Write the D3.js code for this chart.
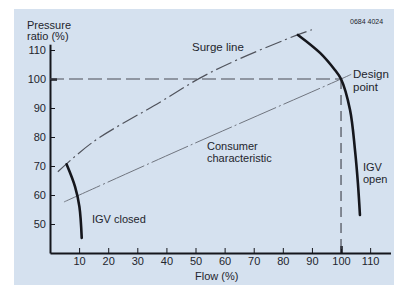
<!DOCTYPE html>
<html>
<head>
<meta charset="utf-8">
<script src="https://cdn.jsdelivr.net/npm/d3@7"></script>
<style>
  body { margin: 0; background: #fff; }
  svg { display: block; font-family: "Liberation Sans", Arial, sans-serif; }
  .lbl { fill: #23252d; font-size: 11px; }
  .axis text { fill: #23252d; font-size: 11px; font-family: "Liberation Sans", Arial, sans-serif; }
  .axis path, .axis line { stroke: #15161c; }
</style>
</head>
<body>
<div id="chart"></div>
<script>
// axis ticks
var xTicks = [10, 20, 30, 40, 50, 60, 70, 80, 90, 100, 110];
var yTicks = [50, 60, 70, 80, 90, 100, 110];

// curves: [flow %, pressure ratio %]
var surgeLine = [[2.7, 68], [14.8, 78.3], [37.8, 92], [51.5, 100.3], [64.3, 106.6], [85, 115.2], [90, 117]];
var consumerLine = [[4.8, 57.6], [44, 75.3], [100, 100], [103.5, 101.6]];
var igvClosed = [[5.7, 70.6], [8.6, 62.9], [10.1, 56], [10.9, 45.2]];
var igvOpen = [[85.2, 115.2], [92.8, 109], [97.9, 103.1], [100, 100], [103.1, 89.3], [104.8, 75.5], [105.8, 64.1], [106.5, 53.1]];
var designPoint = [100, 100];

var width = 394, height = 285;

var svg = d3.select('#chart').append('svg')
    .attr('width', width)
    .attr('height', height);

// light blue panel
svg.append('rect')
    .attr('x', 14).attr('y', 9)
    .attr('width', width - 14).attr('height', height - 9)
    .attr('fill', '#d5e1ef');

var x = d3.scaleLinear().domain([0, 117]).range([50, 390.5]);
var y = d3.scaleLinear().domain([40, 112]).range([253, 44.2]);

var line = d3.line()
    .x(function(d) { return x(d[0]) })
    .y(function(d) { return y(d[1]) })
    .curve(d3.curveCatmullRom);

// x axis, ticks pointing up
var xAxis = svg.append('g')
    .attr('class', 'axis')
    .attr('transform', 'translate(0,' + y(40) + ')')
    .call(d3.axisBottom(x).tickValues(xTicks).tickSize(-5).tickSizeOuter(0).tickPadding(4));
xAxis.select('.domain').attr('stroke-width', 2);
xAxis.selectAll('.tick line').attr('stroke-width', function(d) { return d == 100 ? 2.5 : 1 });
xAxis.selectAll('.tick line').attr('y2', function(d) { return d == 100 ? -7 : -5 });

// y axis, ticks pointing right
var yAxis = svg.append('g')
    .attr('class', 'axis')
    .attr('transform', 'translate(' + x(0) + ',0)')
    .call(d3.axisLeft(y).tickValues(yTicks).tickSize(-5).tickSizeOuter(0).tickPadding(4));
yAxis.select('.domain').attr('stroke-width', 2);
yAxis.selectAll('.tick line').attr('stroke-width', function(d) { return d == 100 ? 2.5 : 1 });
yAxis.selectAll('.tick line').attr('x2', function(d) { return d == 100 ? 7 : 5 });
yAxis.selectAll('.tick text').attr('x', -4);

// design point guides
svg.append('line')
    .attr('x1', x(0)).attr('x2', x(designPoint[0]))
    .attr('y1', y(designPoint[1])).attr('y2', y(designPoint[1]))
    .attr('stroke', '#4a4d57').attr('stroke-width', 1.2)
    .attr('stroke-dasharray', '14,5');
svg.append('line')
    .attr('x1', x(designPoint[0])).attr('x2', x(designPoint[0]))
    .attr('y1', y(designPoint[1])).attr('y2', y(40))
    .attr('stroke', '#4a4d57').attr('stroke-width', 1.2)
    .attr('stroke-dasharray', '10,6');

// consumer characteristic
svg.append('path')
    .attr('d', line(consumerLine))
    .attr('fill', 'none')
    .attr('stroke', '#70757f').attr('stroke-width', 1)
    .attr('stroke-dasharray', '40,3,2,3');

// surge line
svg.append('path')
    .attr('d', line(surgeLine))
    .attr('fill', 'none')
    .attr('stroke', '#50535c').attr('stroke-width', 1.2)
    .attr('stroke-dasharray', '17,4,2,4');

// IGV curves
svg.append('path')
    .attr('d', line(igvClosed))
    .attr('fill', 'none')
    .attr('stroke', '#15161c').attr('stroke-width', 2.6)
    .attr('stroke-linecap', 'round');
svg.append('path')
    .attr('d', line(igvOpen))
    .attr('fill', 'none')
    .attr('stroke', '#15161c').attr('stroke-width', 2.6)
    .attr('stroke-linecap', 'round');

// labels
var labels = [
    ['Pressure', 27, 29, 11],
    ['ratio (%)', 27, 40, 11],
    ['0684 4024', 350, 24, 7],
    ['Surge line', 192, 51, 11.5],
    ['Design', 353, 78, 11.5],
    ['point', 353, 91, 11.5],
    ['Consumer', 207, 150, 11],
    ['characteristic', 207, 162, 11],
    ['IGV', 363, 171, 11],
    ['open', 363, 183, 11],
    ['IGV closed', 92, 223, 11],
    ['Flow (%)', 195, 280, 11]
];
svg.selectAll('text.lbl')
    .data(labels)
    .enter().append('text')
    .attr('class', 'lbl')
    .attr('x', function(d) { return d[1] })
    .attr('y', function(d) { return d[2] })
    .style('font-size', function(d) { return d[3] + 'px' })
    .text(function(d) { return d[0] });
</script>
</body>
</html>
